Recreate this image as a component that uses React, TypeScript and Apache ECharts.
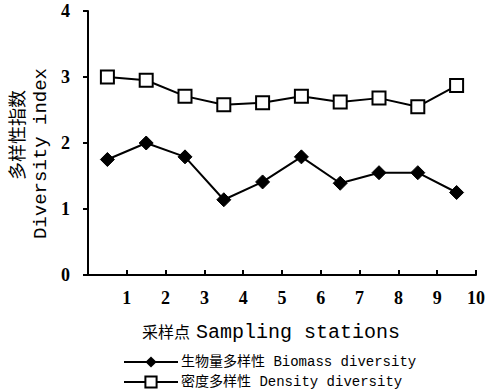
import React, { useEffect, useRef } from "react";
import * as echarts from "echarts";

const stations = [0.5, 1.5, 2.5, 3.5, 4.5, 5.5, 6.5, 7.5, 8.5, 9.5];
const biomass = [1.75, 2.0, 1.79, 1.14, 1.41, 1.79, 1.39, 1.55, 1.55, 1.25];
const density = [3.0, 2.95, 2.71, 2.58, 2.61, 2.71, 2.62, 2.68, 2.55, 2.87];
const biomassName = "生物量多样性 Biomass diversity";
const densityName = "密度多样性 Density diversity";
const yNameCn = "多样性指数";
const yNameEn = "Diversity index";
const xNameCn = "采样点";
const xNameEn = "Sampling stations";

const serif = "'Times New Roman', 'Liberation Serif', 'DejaVu Serif', serif";
const mono = "'Courier New', 'Liberation Mono', monospace";
const cjk = "'Noto Sans CJK SC'";

export default function App() {
  const ref = useRef<HTMLDivElement>(null);
  useEffect(() => {
    if (!ref.current) return;
    const chart = echarts.init(ref.current, null, { renderer: "svg" });
    chart.setOption({
      animation: false,
      backgroundColor: "#fff",
      grid: { left: 88, top: 11, right: 9, bottom: 116, containLabel: false },
      xAxis: {
        type: "value",
        min: 0,
        max: 10,
        interval: 1,
        axisLine: { show: true, lineStyle: { color: "#000", width: 2 } },
        axisTick: { show: true, inside: true, length: 5, lineStyle: { color: "#000", width: 2 } },
        splitLine: { show: false },
        axisLabel: {
          color: "#000",
          fontFamily: serif,
          fontWeight: "bold",
          fontSize: 18,
          margin: 14,
          formatter: (v: number) => (v === 0 ? "" : String(v)),
        },
      },
      yAxis: {
        type: "value",
        min: 0,
        max: 4,
        interval: 1,
        axisLine: { show: true, lineStyle: { color: "#000", width: 2 } },
        axisTick: { show: true, inside: false, length: 5, lineStyle: { color: "#000", width: 2 } },
        splitLine: { show: false },
        axisLabel: { color: "#000", fontFamily: serif, fontWeight: "bold", fontSize: 18, margin: 18 },
      },
      legend: {
        orient: "vertical",
        left: 123,
        top: 355,
        padding: 0,
        itemWidth: 54,
        itemHeight: 14,
        itemGap: 6,
        textStyle: {
          color: "#000",
          fontFamily: "'Liberation Mono', 'Noto Sans CJK SC'",
          fontSize: 14,
          padding: [0, 0, 0, -2],
        },
        data: [biomassName, densityName],
      },
      series: [
        {
          name: biomassName,
          type: "line",
          data: stations.map((x, i) => [x, biomass[i]]),
          symbol: "diamond",
          symbolSize: 14,
          lineStyle: { color: "#000", width: 2 },
          itemStyle: { color: "#000", borderColor: "#000" },
        },
        {
          name: densityName,
          type: "line",
          data: stations.map((x, i) => [x, density[i]]),
          symbol: "rect",
          symbolSize: 13,
          lineStyle: { color: "#000", width: 2 },
          itemStyle: { color: "#fff", borderColor: "#000", borderWidth: 2 },
        },
      ],
      graphic: [
        {
          type: "text",
          left: 7,
          top: 90,
          rotation: Math.PI / 2,
          style: { text: yNameCn, fill: "#000", fontFamily: cjk, fontSize: 18 },
        },
        {
          type: "text",
          left: 31,
          top: 68,
          rotation: Math.PI / 2,
          style: { text: yNameEn, fill: "#000", fontFamily: mono, fontSize: 19 },
        },
        {
          type: "text",
          x: 142,
          y: 331,
          style: {
            text: xNameCn,
            fill: "#000",
            fontFamily: cjk,
            fontSize: 16,
            align: "left",
            verticalAlign: "middle",
          },
        },
        {
          type: "text",
          x: 196,
          y: 332,
          style: {
            text: xNameEn,
            fill: "#000",
            fontFamily: mono,
            fontSize: 20,
            align: "left",
            verticalAlign: "middle",
          },
        },
      ],
    });
    return () => chart.dispose();
  }, []);
  return (
    <div
      ref={ref}
      style={{ width: 488, height: 391, position: "fixed", left: 0, top: 0 }}
    />
  );
}
